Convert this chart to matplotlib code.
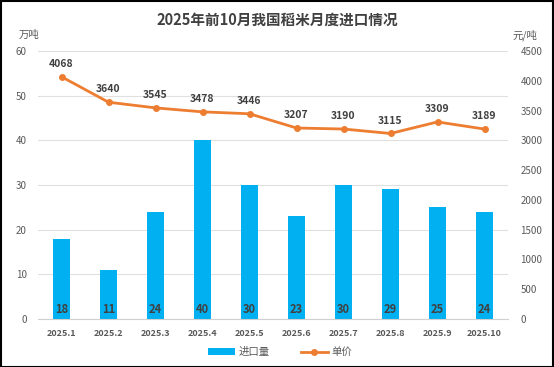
import matplotlib
matplotlib.use("Agg")
import matplotlib.pyplot as plt

plt.rcParams['font.family'] = ['Noto Sans CJK SC', 'DejaVu Sans']

months = ["2025.1", "2025.2", "2025.3", "2025.4", "2025.5",
          "2025.6", "2025.7", "2025.8", "2025.9", "2025.10"]
volume = [18, 11, 24, 40, 30, 23, 30, 29, 25, 24]
price = [4068, 3640, 3545, 3478, 3446, 3207, 3190, 3115, 3309, 3189]

txt = "#595959"
fig = plt.figure(figsize=(5.54, 3.67), dpi=100)
ax = fig.add_axes([38 / 554, 1 - 319 / 367, 470 / 554, 268 / 367])
ax2 = ax.twinx()

x = range(len(months))
bars = ax.bar(x, volume, width=0.36, color="#00B0F0", label="进口量", zorder=2)
for i, v in enumerate(volume):
    ax.text(i, 2.1, str(v), ha="center", va="center", fontsize=8,
            fontweight="bold", color="#404040", zorder=3)

ln, = ax2.plot(x, price, color="#ED7D31", lw=2, marker="o", ms=4, label="单价", zorder=4)
for i, p in enumerate(price):
    ax2.text(i, p + 130, str(p), ha="center", va="bottom", fontsize=7.5,
             fontweight="bold", color="#404040")

ax.set_xlim(-0.5, len(months) - 0.5)
ax.set_ylim(0, 60)
ax.set_yticks(range(0, 61, 10))
ax2.set_ylim(0, 4500)
ax2.set_yticks(range(0, 4501, 500))
ax.set_xticks(list(x))
ax.set_xticklabels(months)

ax.grid(axis="y", color="#E0E0E0", lw=0.8, zorder=0)
ax.set_axisbelow(True)
ax2.set_zorder(ax.get_zorder() + 1)
ax2.patch.set_visible(False)

for a in (ax, ax2):
    for s in a.spines.values():
        s.set_visible(False)
    a.tick_params(length=0, labelsize=7, colors=txt)
ax.spines["bottom"].set_visible(True)
ax.spines["bottom"].set_color("#D0D0D0")
ax.tick_params(axis="x", pad=7, labelsize=6.5)
ax.tick_params(axis="y", pad=8)
ax2.tick_params(axis="y", pad=9)
for lab in ax.get_xticklabels():
    lab.set_fontweight("bold")

fig.text(0.5, 1 - 19.5 / 367, "2025年前10月我国稻米月度进口情况", ha="center", va="center",
         fontsize=10.5, fontweight="bold", color="#404040")
fig.text(19 / 554, 1 - 35 / 367, "万吨", ha="left", va="center", fontsize=7.5, color=txt)
fig.text(537 / 554, 1 - 35 / 367, "元/吨", ha="right", va="center", fontsize=7.5, color=txt)

fig.legend(handles=[bars, ln], loc="center", bbox_to_anchor=(280 / 554, 1 - 352 / 367), ncol=2,
           frameon=False, fontsize=7.5, handlelength=2.6, handleheight=0.6,
           handletextpad=0.3, columnspacing=3.0, labelcolor=txt)

fig.patches.append(plt.Rectangle((0.001, 0.001), 0.997, 0.997, transform=fig.transFigure,
                                 fill=False, edgecolor="black", lw=1.5))

fig.savefig("out.png", dpi=100)
